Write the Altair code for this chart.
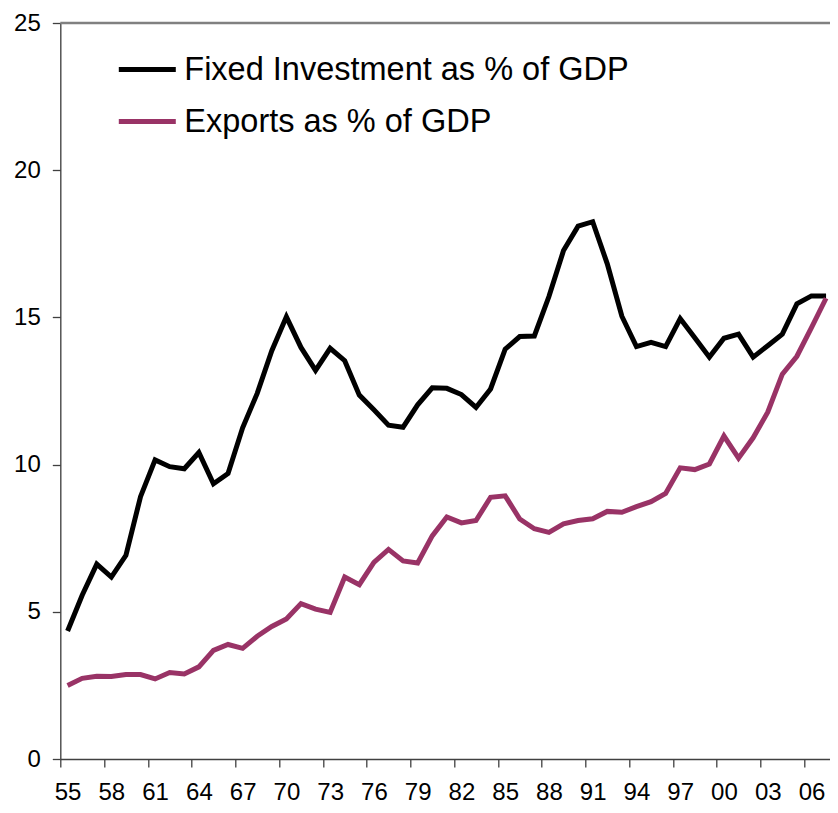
import altair as alt
import pandas as pd

years = list(range(1955, 2008))
investment = [4.35, 5.56, 6.62, 6.18, 6.92, 8.91, 10.16, 9.93, 9.86, 10.41,
              9.35, 9.70, 11.25, 12.42, 13.87, 15.02, 13.98, 13.20, 13.95, 13.53,
              12.36, 11.86, 11.34, 11.27, 12.03, 12.61, 12.59, 12.38, 11.94, 12.57,
              13.92, 14.35, 14.37, 15.71, 17.27, 18.10, 18.25, 16.82, 15.04, 14.01,
              14.15, 14.01, 14.96, 14.31, 13.65, 14.29, 14.43, 13.65, 14.04, 14.43,
              15.46, 15.73, 15.73]
exports = [2.50, 2.74, 2.81, 2.80, 2.87, 2.87, 2.72, 2.94, 2.89, 3.13,
           3.69, 3.89, 3.76, 4.17, 4.50, 4.76, 5.28, 5.09, 4.98, 6.18,
           5.92, 6.68, 7.12, 6.73, 6.66, 7.58, 8.22, 8.02, 8.10, 8.89,
           8.94, 8.15, 7.82, 7.70, 7.99, 8.10, 8.16, 8.41, 8.38, 8.57,
           8.74, 9.02, 9.89, 9.83, 10.02, 10.97, 10.22, 10.91, 11.78, 13.07,
           13.68, 14.65, 15.65]
series_names = ["Fixed Investment as % of GDP", "Exports as % of GDP"]
series_colors = ["#000000", "#993366"]
x_tick_values = [1954.5 + 3 * k for k in range(18)]
y_tick_values = [0, 5, 10, 15, 20, 25]

rows = []
for y, a, b in zip(years, investment, exports):
    rows.append({"year": y, "series": series_names[0], "value": a})
    rows.append({"year": y, "series": series_names[1], "value": b})
df = pd.DataFrame(rows)

FONT = "Liberation Sans"

lines = alt.Chart(df).mark_line(strokeWidth=5, strokeJoin="miter").encode(
    x=alt.X("year:Q",
            scale=alt.Scale(domain=[1954.5, 2007.27], nice=False, zero=False),
            axis=alt.Axis(values=x_tick_values, title=None, grid=False,
                          labelExpr="slice(toString(datum.value + 0.5), 2)",
                          labelOffset=7.3, labelFlush=False, labelOverlap=False,
                          tickSize=8, labelPadding=13, labelFontSize=24,
                          labelFont=FONT, labelColor="#000000",
                          domainColor="#404040", tickColor="#404040",
                          domainWidth=1.3, tickWidth=1.3)),
    y=alt.Y("value:Q",
            scale=alt.Scale(domain=[0, 25], nice=False),
            axis=alt.Axis(values=y_tick_values, title=None, grid=False,
                          labelFlush=False, labelOverlap=False,
                          tickSize=8, labelPadding=12, labelFontSize=24,
                          labelFont=FONT, labelColor="#000000",
                          domainColor="#404040", tickColor="#404040",
                          domainWidth=1.3, tickWidth=1.3)),
    color=alt.Color("series:N",
                    scale=alt.Scale(domain=series_names, range=series_colors),
                    legend=alt.Legend(title=None, orient="none",
                                      legendX=56, legendY=15.5,
                                      symbolType="stroke", symbolSize=3249,
                                      symbolStrokeWidth=5, labelFontSize=32.5,
                                      labelFont=FONT, labelColor="#000000",
                                      labelOffset=6, rowPadding=4,
                                      padding=0, labelLimit=0)),
    order="year:Q",
)

top_border = alt.Chart(pd.DataFrame({"v": [25]})).mark_rule(
    color="#808080", strokeWidth=2.5
).encode(y=alt.Y("v:Q"))

chart = alt.layer(lines, top_border).properties(
    width=769.7, height=736,
    autosize=alt.AutoSizeParams(type="none"),
    padding={"left": 52.3, "top": 15, "right": 0, "bottom": 46},
).configure_view(stroke=None).configure(background="#ffffff")

chart.save("out.html", embed_options={"renderer": "svg", "actions": False})
